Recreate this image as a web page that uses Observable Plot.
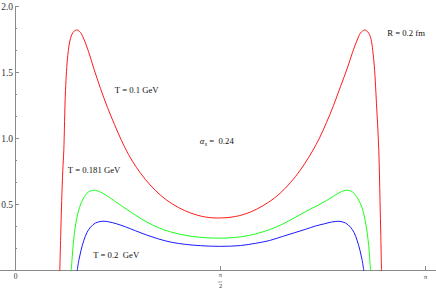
<!DOCTYPE html>
<html><head><meta charset="utf-8">
<script src="https://cdn.jsdelivr.net/npm/d3@7"></script>
<script src="https://cdn.jsdelivr.net/npm/@observablehq/plot@0.6"></script>
<style>
body{margin:0;background:#fff}
svg{display:block}
svg text{white-space:pre}
</style>
</head><body><div id="chart"></div>
<script>
// Curve samples (x in radians, y value)
const redTheta = [0.3394,0.3463,0.3540,0.3624,0.3701,0.3831,0.4007,0.4214,0.4467,0.4728,0.4981,0.5233,0.5594,0.6000,0.6513,0.7049,0.7586,0.8122,0.8658,0.9272,0.9961,1.0727,1.1570,1.2490,1.3409,1.4559,1.5708,
  1.6857,1.8007,1.8926,1.9846,2.0688,2.1455,2.2144,2.2757,2.3294,2.3830,2.4366,2.4903,2.5416,2.5822,2.6182,2.6435,2.6765,2.6995,2.7202,2.7454,2.7661,2.7838,2.7930,2.7991,2.8044];
const redValue = [0,0.265,0.530,0.758,0.909,1.364,1.629,1.758,1.811,1.822,1.803,1.754,1.659,1.530,1.379,1.235,1.106,0.985,0.879,0.780,0.689,0.606,0.534,0.477,0.436,0.405,0.398,
  0.409,0.443,0.489,0.549,0.625,0.712,0.807,0.905,1.004,1.121,1.250,1.394,1.530,1.652,1.746,1.799,1.822,1.807,1.767,1.591,1.263,0.909,0.530,0.265,0];

const greenTheta = [0.4268,0.4337,0.4414,0.4521,0.4674,0.4904,0.5210,0.5594,0.6000,0.6436,0.6973,0.7586,0.8199,0.8888,0.9655,1.0497,1.1417,1.2490,1.3562,1.4635,1.5708,
  1.6781,1.7853,1.8926,1.9999,2.0918,2.1761,2.2527,2.3217,2.3830,2.4443,2.4979,2.5416,2.5822,2.6205,2.6550,2.6780,2.6949,2.7064,2.7140,2.7202];
const greenValue = [0,0.091,0.189,0.288,0.386,0.477,0.549,0.595,0.608,0.598,0.568,0.527,0.485,0.439,0.390,0.345,0.307,0.277,0.258,0.248,0.245,
  0.250,0.265,0.292,0.330,0.375,0.420,0.462,0.496,0.530,0.567,0.598,0.608,0.595,0.549,0.477,0.386,0.288,0.189,0.091,0];

const blueTheta = [0.4728,0.4850,0.5019,0.5233,0.5479,0.5747,0.6130,0.6643,0.7126,0.7739,0.8429,0.9195,1.0038,1.0957,1.1953,1.3026,1.4175,1.5708,
  1.7240,1.8390,1.9463,2.0459,2.1378,2.2221,2.2987,2.3677,2.4213,2.4773,2.5286,2.5669,2.5937,2.6182,2.6397,2.6566,2.6688];
const blueValue = [0,0.076,0.152,0.227,0.288,0.328,0.360,0.373,0.369,0.354,0.331,0.301,0.269,0.239,0.214,0.198,0.188,0.183,
  0.189,0.206,0.227,0.258,0.286,0.312,0.337,0.354,0.367,0.373,0.360,0.328,0.288,0.227,0.152,0.076,0];

// Ticks
const yTickValues = [0.5, 1.0, 1.5, 2.0];
const yTickLabels = ["0.5", "1.0", "1.5", "2.0"];
const yMinorTicks = [1/6, 2/6, 4/6, 5/6, 7/6, 8/6, 10/6, 11/6];
const xTickValues = [0, Math.PI / 2, Math.PI];

// Annotations
const annotationText = ["R = 0.2 fm", "T = 0.1 GeV", "T = 0.181 GeV", "T = 0.2  GeV"];
const annotationTheta = [2.848, 0.761, 0.401, 0.595];
const annotationValue = [1.795, 1.364, 0.763, 0.114];
const alphaTheta = [1.412];
const alphaValue = [0.980];

const toRows = (xs, ys) => xs.map((x, i) => ({theta: x, value: ys[i]}));
const red = toRows(redTheta, redValue);
const green = toRows(greenTheta, greenValue);
const blue = toRows(blueTheta, blueValue);
const annotations = annotationText.map((t, i) => ({text: t, theta: annotationTheta[i], value: annotationValue[i]}));
const alpha = alphaTheta.map((t, i) => ({theta: t, value: alphaValue[i]}));

const W = 436, H = 297;
const font = "'Liberation Serif', 'Times New Roman', serif";
const axisColor = "#8a8a8a";
const labelColor = "#333";

const chart = Plot.plot({
  width: W, height: H,
  marginTop: 0, marginBottom: 27, marginLeft: 0, marginRight: 0,
  style: {fontFamily: font, background: "#fff", overflow: "visible"},
  x: {domain: [-15 * Math.PI / 410, 421 * Math.PI / 410], axis: null},
  y: {domain: [0, 270 / 132], axis: null},
  marks: [
    // axes lines
    Plot.ruleY([0], {stroke: axisColor, strokeWidth: 1}),
    Plot.ruleX([0], {y1: 0, y2: d3.max(yTickValues), stroke: axisColor, strokeWidth: 1}),
    // y ticks (pointing inward)
    Plot.ruleY(yTickValues, {y: d => d, x1: 0, x2: 0, insetRight: -4, stroke: axisColor}),
    Plot.ruleY(yMinorTicks, {y: d => d, x1: 0, x2: 0, insetRight: -2, stroke: axisColor}),
    Plot.text(yTickValues, {x: 0, y: d => d, text: (d, i) => yTickLabels[i], textAnchor: "end", dx: -2.5, fontSize: 9.5, fill: labelColor}),
    // x ticks (pointing inward)
    Plot.ruleX(xTickValues, {x: d => d, y1: 0, y2: 0, insetTop: -4, stroke: axisColor}),
    Plot.text([xTickValues[0]], {x: d => d, frameAnchor: "bottom", text: ["0"], dy: 8.5, fontSize: 7.5, fill: labelColor}),
    Plot.text([xTickValues[2]], {x: d => d, frameAnchor: "bottom", text: ["π"], dy: 8.5, fontSize: 7, fill: labelColor}),
    Plot.text([xTickValues[1]], {x: d => d, frameAnchor: "bottom", text: ["π"], dy: 6.5, fontSize: 6.5, fill: labelColor}),
    Plot.ruleY([0], {x1: xTickValues[1], x2: xTickValues[1], insetLeft: -2.2, insetRight: -2.2, dy: 11.5, stroke: "#666", strokeWidth: 0.6}),
    Plot.text([xTickValues[1]], {x: d => d, frameAnchor: "bottom", text: ["2"], dy: 17, fontSize: 6.5, fill: labelColor}),
    // curves
    Plot.line(red, {x: "theta", y: "value", stroke: "#ff0000", strokeWidth: 0.9, curve: "catmull-rom"}),
    Plot.line(green, {x: "theta", y: "value", stroke: "#00ff00", strokeWidth: 0.9, curve: "catmull-rom"}),
    Plot.line(blue, {x: "theta", y: "value", stroke: "#0000ff", strokeWidth: 0.9, curve: "catmull-rom"}),
    // annotations
    Plot.text(annotations, {x: "theta", y: "value", text: "text", textAnchor: "start", fontSize: 8.7, fill: "#111"}),
    Plot.text(alpha, {x: "theta", y: "value", text: () => "α", textAnchor: "start", fontSize: 8.7, fontStyle: "italic", fill: "#111"}),
    Plot.text(alpha, {x: "theta", y: "value", text: () => "s", textAnchor: "start", fontSize: 6, fontStyle: "italic", dx: 5, dy: 2.5, fill: "#111"}),
    Plot.text(alpha, {x: "theta", y: "value", text: () => "=  0.24", textAnchor: "start", fontSize: 8.7, dx: 9.5, fill: "#111"})
  ]
});
document.getElementById("chart").appendChild(chart);
</script>
</body></html>
